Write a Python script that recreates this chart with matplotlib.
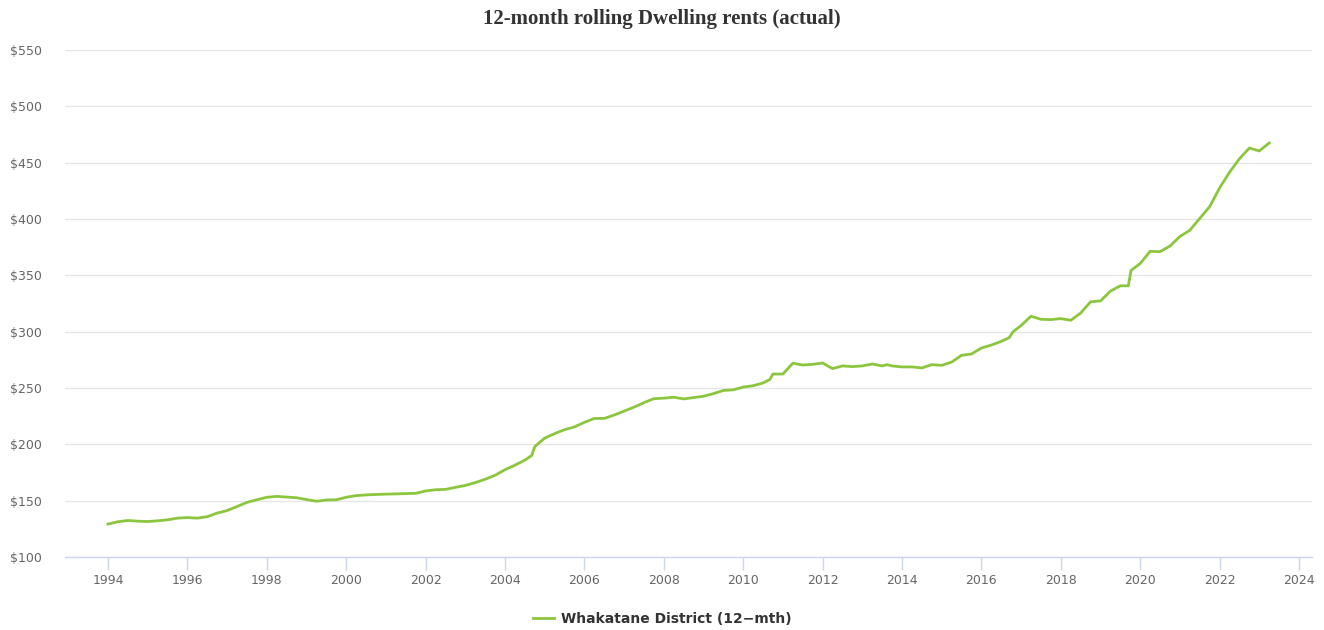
import matplotlib
matplotlib.use("Agg")
import matplotlib.pyplot as plt
from matplotlib.lines import Line2D

# ---- data ----
dates = [1994.00, 1994.25, 1994.50, 1994.75, 1995.00, 1995.25, 1995.50, 1995.75,
         1996.00, 1996.25, 1996.50, 1996.75, 1997.00, 1997.25, 1997.50, 1997.75,
         1998.00, 1998.25, 1998.50, 1998.75, 1999.00, 1999.25, 1999.50, 1999.75,
         2000.00, 2000.25, 2000.50, 2000.75, 2001.00, 2001.25, 2001.50, 2001.75,
         2002.00, 2002.25, 2002.50, 2002.75, 2003.00, 2003.25, 2003.50, 2003.75,
         2004.00, 2004.25, 2004.50, 2004.67, 2004.75, 2005.00, 2005.25, 2005.50,
         2005.75, 2006.00, 2006.25, 2006.50, 2006.75, 2007.00, 2007.25, 2007.50,
         2007.75, 2008.00, 2008.25, 2008.50, 2008.75, 2009.00, 2009.25, 2009.50,
         2009.75, 2010.00, 2010.25, 2010.50, 2010.67, 2010.75, 2011.00, 2011.25,
         2011.50, 2011.75, 2012.00, 2012.25, 2012.50, 2012.75, 2013.00, 2013.25,
         2013.50, 2013.625, 2013.75, 2014.00, 2014.25, 2014.50, 2014.75, 2015.00,
         2015.25, 2015.50, 2015.75, 2016.00, 2016.25, 2016.50, 2016.70, 2016.80,
         2017.00, 2017.25, 2017.50, 2017.75, 2018.00, 2018.25, 2018.50, 2018.75,
         2019.00, 2019.25, 2019.50, 2019.70, 2019.77, 2020.00, 2020.25, 2020.50,
         2020.75, 2021.00, 2021.25, 2021.50, 2021.75, 2022.00, 2022.25, 2022.50,
         2022.75, 2023.00, 2023.25]
rents = [129.2, 131.3, 132.4, 131.8, 131.5, 132.1, 133.0, 134.5,
         135.0, 134.5, 135.8, 139.0, 141.2, 144.8, 148.5, 150.8,
         153.0, 153.8, 153.2, 152.6, 151.0, 149.5, 150.6, 150.8,
         153.0, 154.5, 155.1, 155.5, 155.8, 156.0, 156.3, 156.5,
         158.6, 159.7, 160.0, 161.8, 163.5, 166.0, 169.0, 172.5,
         177.5, 181.5, 186.0, 190.0, 198.0, 205.5, 209.5, 213.0,
         215.5, 219.5, 223.0, 223.0, 226.0, 229.5, 233.0, 237.0,
         240.5, 241.0, 241.8, 240.3, 241.5, 242.7, 245.0, 247.8,
         248.4, 250.8, 252.0, 254.5, 257.5, 262.4, 262.4, 272.0,
         270.4, 271.0, 272.2, 267.2, 269.6, 269.0, 269.6, 271.3,
         269.6, 270.7, 269.6, 268.7, 268.7, 267.8, 270.7, 270.1,
         273.0, 279.0, 280.2, 285.5, 288.1, 291.4, 294.7, 300.0,
         305.5, 313.7, 311.0, 310.7, 311.6, 310.1, 316.5, 326.5,
         327.3, 336.0, 340.7, 340.7, 354.4, 360.5, 371.3, 371.0,
         376.0, 384.5, 390.0, 400.5, 411.0, 427.5, 441.5, 453.5,
         463.0, 460.4, 467.5]
series_name = "Whakatane District (12\u2212mth)"
title = "12-month rolling Dwelling rents (actual)"
y_ticks = [100, 150, 200, 250, 300, 350, 400, 450, 500, 550]
x_ticks = list(range(1994, 2025, 2))

# ---- figure ----
W, H = 1324, 630
fig = plt.figure(figsize=(W / 100, H / 100), dpi=100)
left, right, top, bottom = 65, 1312, 50, 557
ax = fig.add_axes([left / W, (H - bottom) / H, (right - left) / W, (bottom - top) / H])

line_color = "#8cc63e"
ax.plot(dates, rents, color=line_color, lw=2.0, solid_joinstyle="round")

px_per_year = (1299 - 108) / 30
ax.set_xlim(1994 - (108 - left) / px_per_year, 2024 + (right - 1299) / px_per_year)
ax.set_ylim(100, 550)

ax.set_yticks(y_ticks)
ax.set_yticklabels([f"${v}" for v in y_ticks])
ax.set_xticks(x_ticks)
ax.set_xticklabels([str(v) for v in x_ticks])

ax.grid(axis="y", color="#e6e6e6", lw=1)
ax.set_axisbelow(True)
for s in ["top", "right", "left"]:
    ax.spines[s].set_visible(False)
ax.spines["bottom"].set_color("#ccd6eb")
ax.spines["bottom"].set_linewidth(1)
ax.tick_params(axis="y", length=0, pad=39.5, labelsize=9, labelcolor="#666666")
ax.tick_params(axis="x", length=9, width=1, color="#ccd6eb", pad=3,
               labelsize=9, labelcolor="#666666")
for lbl in ax.get_yticklabels():
    lbl.set_horizontalalignment("left")

fig.text(662 / W, 1 - 19 / H, title, ha="center", va="center",
         fontsize=15, fontweight="bold", family="Liberation Serif", color="#333333")

handle = Line2D([0], [0], color=line_color, lw=2.0)
fig.legend([handle], [series_name], loc="center", bbox_to_anchor=(662 / W, 1 - 619 / H),
           frameon=False, handlelength=1.5, handletextpad=0.5,
           prop={"weight": "bold", "size": 10}, labelcolor="#333333")

fig.savefig("out.png", dpi=100)
